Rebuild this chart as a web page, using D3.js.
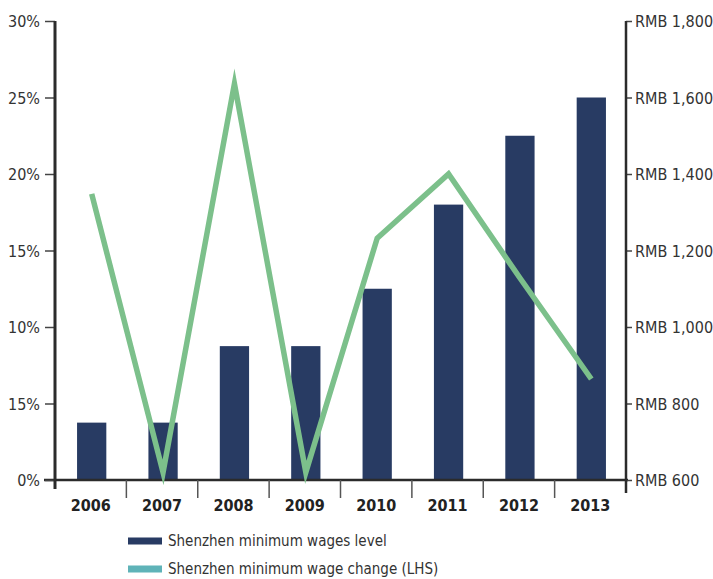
<!DOCTYPE html>
<html>
<head>
    <title>Shenzhen minimum wages</title>
    <script src="https://d3js.org/d3.v7.min.js"></script>
    <style>
        * { margin: 0; padding: 0; }
        body { background: #fff; }
        #chart text {
            font-family: "DejaVu Sans Condensed", "DejaVu Sans", sans-serif;
            font-stretch: condensed;
            fill: #333;
        }
    </style>
</head>
<body>
<div id="chart"></div>
<script>
    // data
    const years = ["2006", "2007", "2008", "2009", "2010", "2011", "2012", "2013"];
    const wageLevel = [750, 750, 950, 950, 1100, 1320, 1500, 1600];        // RMB, right axis
    const wageChange = [18.7, 0.5, 25.9, 0.5, 15.8, 20.0, 13.2, 6.6];     // %, left axis
    const leftTicks = [0, 5, 10, 15, 20, 25, 30];
    const leftTickLabels = ["0%", "15%", "10%", "15%", "20%", "25%", "30%"]; // as printed
    const rightTicks = [600, 800, 1000, 1200, 1400, 1600, 1800];
    const rightTickLabels = ["RMB 600", "RMB 800", "RMB 1,000", "RMB 1,200", "RMB 1,400", "RMB 1,600", "RMB 1,800"];
    const legendItems = [
        { label: "Shenzhen minimum wages level", color: "#283b63" },
        { label: "Shenzhen minimum wage change (LHS)", color: "#5fb3b8" }
    ];

    const width = 713, height = 579;
    const margin = { left: 55, right: 87, top: 21, bottom: 99 };
    const plotBottom = height - margin.bottom; // 480
    const fontSize = "16px";

    const svg = d3.select("#chart").append("svg")
        .attr("width", width)
        .attr("height", height);

    const x = d3.scaleBand()
        .domain(years)
        .range([margin.left, width - margin.right])
        .padding(0);

    const yLeft = d3.scaleLinear().domain([0, 30]).range([plotBottom, margin.top]);
    const yRight = d3.scaleLinear().domain([600, 1800]).range([plotBottom, margin.top]);

    const barW = x.bandwidth() * 0.41;

    // bars
    svg.append("g")
        .selectAll("rect")
        .data(years)
        .join("rect")
        .attr("x", (d, i) => x(d) + x.bandwidth() / 2 - barW / 2 + 1)
        .attr("y", (d, i) => yRight(wageLevel[i]))
        .attr("width", barW)
        .attr("height", (d, i) => plotBottom - yRight(wageLevel[i]))
        .attr("fill", "#283b63");

    // x axis baseline + category ticks
    const xAxis = svg.append("g").attr("transform", `translate(0,${plotBottom})`);
    xAxis.append("line")
        .attr("x1", margin.left - 11).attr("x2", width - margin.right + 2)
        .attr("y1", 0).attr("y2", 0)
        .attr("stroke", "#2b2b2b").attr("stroke-width", 2.5);
    xAxis.selectAll(".sep")
        .data(years.slice(1))
        .join("line")
        .attr("class", "sep")
        .attr("x1", d => x(d)).attr("x2", d => x(d))
        .attr("y1", 0).attr("y2", 18)
        .attr("stroke", "#555").attr("stroke-width", 1.5);
    xAxis.selectAll(".yr")
        .data(years)
        .join("text")
        .attr("class", "yr")
        .attr("x", d => x(d) + x.bandwidth() / 2)
        .attr("y", 31)
        .attr("text-anchor", "middle")
        .style("font-size", fontSize)
        .style("font-weight", "bold")
        .style("fill", "#222")
        .text(d => d);

    // left axis
    const leftAxis = svg.append("g").attr("transform", `translate(${margin.left},0)`)
        .call(d3.axisLeft(yLeft).tickValues(leftTicks)
            .tickFormat((d, i) => leftTickLabels[i]).tickSize(10).tickPadding(5));
    leftAxis.select(".domain").remove();
    leftAxis.selectAll(".tick line").attr("stroke", "#444").attr("stroke-width", 1.5);
    leftAxis.selectAll(".tick text").style("font-size", fontSize).attr("dy", "0.35em").attr("fill", "#333");
    leftAxis.append("line")
        .attr("x1", 0).attr("x2", 0)
        .attr("y1", margin.top).attr("y2", plotBottom + 9)
        .attr("stroke", "#2b2b2b").attr("stroke-width", 3);

    // right axis
    const rightAxis = svg.append("g").attr("transform", `translate(${width - margin.right},0)`)
        .call(d3.axisRight(yRight).tickValues(rightTicks)
            .tickFormat((d, i) => rightTickLabels[i]).tickSize(6).tickPadding(3));
    rightAxis.select(".domain").remove();
    rightAxis.selectAll(".tick line").attr("stroke", "#444").attr("stroke-width", 1.5);
    rightAxis.selectAll(".tick text").style("font-size", fontSize).attr("dy", "0.35em").attr("fill", "#333");
    rightAxis.append("line")
        .attr("x1", 0).attr("x2", 0)
        .attr("y1", margin.top).attr("y2", plotBottom + 13)
        .attr("stroke", "#2b2b2b").attr("stroke-width", 2.5);

    // change line
    const line = d3.line()
        .x((d, i) => x(years[i]) + x.bandwidth() / 2 + 1)
        .y(d => yLeft(d));
    svg.append("path")
        .datum(wageChange)
        .attr("d", line)
        .attr("fill", "none")
        .attr("stroke", "#7cc08b")
        .attr("stroke-width", 5.5)
        .attr("stroke-linejoin", "miter")
        .attr("stroke-miterlimit", 12);

    // legend
    const legend = svg.append("g").attr("transform", "translate(128,0)");
    legendItems.forEach((item, i) => {
        const ly = 541 + i * 28;
        legend.append("rect")
            .attr("x", 0).attr("y", ly - 3.5)
            .attr("width", 34).attr("height", 7)
            .attr("fill", item.color);
        legend.append("text")
            .attr("x", 40).attr("y", ly)
            .attr("dy", "0.35em")
            .style("font-size", "15px")
            .text(item.label);
    });
</script>
</body>
</html>
